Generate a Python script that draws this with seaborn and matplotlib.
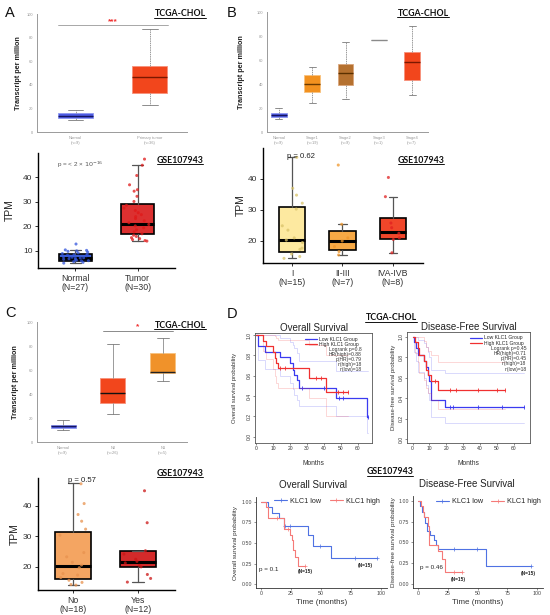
import numpy as np
import pandas as pd
import matplotlib
matplotlib.use("Agg")
import matplotlib.pyplot as plt
from matplotlib.lines import Line2D
import seaborn as sns

sns.set_theme(style="white")
plt.rcParams['font.family'] = ['Liberation Sans', 'DejaVu Sans']
plt.rcParams['mathtext.fontset'] = 'dejavusans'
np.random.seed(7)

# ================= DATA =================
# A top: TCGA-CHOL (GEPIA) box statistics, TPM
a1_labels = ["Normal\n(n=9)", "Primary tumor\n(n=36)"]
a1_lo = [10.0, 23.0]
a1_q1 = [12.0, 33.0]
a1_med = [13.5, 46.5]
a1_q3 = [16.0, 56.0]
a1_hi = [19.0, 87.0]

# B top: by stage
b1_labels = ["Normal\n(n=9)", "Stage1\n(n=19)", "Stage2\n(n=9)", "Stage3\n(n=1)", "Stage4\n(n=7)"]
b1_lo = [11.0, 24.0, 27.5, 77.0, 31.0]
b1_q1 = [12.5, 33.0, 39.0, 77.0, 43.0]
b1_med = [14.0, 40.0, 49.0, 77.0, 58.0]
b1_q3 = [16.0, 47.5, 57.0, 77.0, 66.5]
b1_hi = [20.0, 54.0, 75.0, 77.0, 88.0]

# C top: by nodal status
c1_labels = ["Normal\n(n=9)", "N0\n(n=26)", "N1\n(n=5)"]
c1_lo = [10.0, 23.0, 50.7]
c1_q1 = [12.0, 32.6, 57.5]
c1_med = [13.0, 41.0, 58.0]
c1_q3 = [14.0, 53.5, 74.0]
c1_hi = [18.5, 82.0, 87.0]

# A bottom: GSE107943 Normal vs Tumor
a2_groups = ["Normal\n(N=27)", "Tumor\n(N=30)"]
a2_lo = [5.0, 14.0]
a2_q1 = [5.9, 16.7]
a2_med = [7.2, 20.8]
a2_q3 = [8.6, 29.0]
a2_hi = [10.4, 45.0]
a2_normal_pts = [5.0, 5.3, 5.6, 5.9, 6.0, 6.2, 6.4, 6.6, 6.8, 7.0, 7.1, 7.2, 7.4, 7.6,
                 7.8, 8.0, 8.2, 8.4, 8.6, 8.9, 9.2, 9.5, 9.8, 10.0, 10.2, 10.4, 12.8]
a2_tumor_pts = [47.5, 45.0, 40.8, 37.0, 35.0, 34.4, 32.3, 30.2, 14.0, 14.2, 14.6, 15.0,
                15.4, 15.9, 16.4, 17.0, 17.8, 18.6, 19.4, 20.2, 20.8, 21.5, 22.3, 23.2,
                24.0, 24.8, 25.6, 26.5, 27.5, 28.6]

# B bottom: GSE107943 by stage
b2_groups = ["I\n(N=15)", "II-III\n(N=7)", "IVA-IVB\n(N=8)"]
b2_lo = [14.5, 15.5, 16.2]
b2_q1 = [16.4, 17.1, 20.5]
b2_med = [20.3, 20.0, 23.0]
b2_q3 = [31.0, 23.2, 27.5]
b2_hi = [47.0, 25.4, 34.3]
b2_I_pts = [47.0, 37.0, 34.8, 32.2, 30.3, 24.9, 23.5, 21.0, 20.3, 19.5, 17.7, 17.3, 15.8, 15.0, 14.4]
b2_II_pts = [44.5, 25.4, 21.0, 20.0, 18.2, 16.6, 15.5]
b2_IV_pts = [40.5, 34.3, 25.8, 24.3, 22.5, 21.0, 20.5, 16.2]

# C bottom: GSE107943 by lymph node metastasis
c2_groups = ["No\n(N=18)", "Yes\n(N=12)"]
c2_lo = [14.1, 15.0]
c2_q1 = [16.1, 19.8]
c2_med = [20.2, 21.7]
c2_q3 = [31.6, 25.1]
c2_hi = [47.4, 25.3]
c2_no_pts = [47.3, 40.8, 37.2, 35.0, 32.4, 30.4, 24.7, 23.3, 21.5, 20.6, 19.7, 17.8,
             17.3, 16.5, 15.6, 14.9, 14.2, 14.0]
c2_yes_pts = [45.0, 34.5, 25.3, 24.2, 22.5, 21.8, 21.3, 20.5, 20.0, 17.5, 16.2, 15.0]

# D top-left: TCGA overall survival
os_low_t = [0, 1, 5.5, 14, 20, 21.5, 22.5, 24, 25.5, 47, 65.5, 66]
os_low_s = [1.0, 0.89, 0.83, 0.78, 0.72, 0.66, 0.61, 0.555, 0.48, 0.385, 0.19, 0.19]
os_low_cens = [27, 40, 49, 51, 66]
os_low_ci_hi = [1.0, 1.0, 1.0, 0.97, 0.93, 0.9, 0.87, 0.82, 0.74, 0.65, 0.65, 0.65]
os_low_ci_lo = [1.0, 0.75, 0.67, 0.6, 0.53, 0.47, 0.41, 0.36, 0.3, 0.2, 0.04, 0.04]
os_high_t = [0, 4, 6, 10, 11, 12, 13, 31, 41, 54]
os_high_s = [1.0, 0.944, 0.889, 0.833, 0.778, 0.722, 0.675, 0.58, 0.435, 0.435]
os_high_cens = [14, 17, 35, 38, 48, 51, 54]
os_high_ci_hi = [1.0, 1.0, 1.0, 1.0, 0.99, 0.97, 0.95, 0.9, 0.8, 0.8]
os_high_ci_lo = [1.0, 0.84, 0.76, 0.67, 0.6, 0.53, 0.48, 0.38, 0.2, 0.2]

# D top-right: TCGA disease-free survival
dfs_low_t = [0, 1, 2, 3.5, 7, 8, 9, 10, 11, 19.5, 66]
dfs_low_s = [1.0, 0.944, 0.889, 0.822, 0.76, 0.70, 0.63, 0.57, 0.38, 0.316, 0.316]
dfs_low_cens = [22, 24, 39, 53, 66]
dfs_low_ci_hi = [1.0, 1.0, 1.0, 0.97, 0.94, 0.9, 0.85, 0.8, 0.68, 0.65, 0.65]
dfs_low_ci_lo = [1.0, 0.85, 0.76, 0.66, 0.6, 0.53, 0.45, 0.38, 0.22, 0.16, 0.16]
dfs_high_t = [0, 1.6, 3, 3.6, 7, 8, 9, 11, 15, 54.5]
dfs_high_s = [1.0, 0.944, 0.889, 0.822, 0.76, 0.68, 0.63, 0.565, 0.485, 0.485]
dfs_high_cens = [13, 22, 26, 39, 50, 54.5]
dfs_high_ci_hi = [1.0, 1.0, 1.0, 1.0, 0.96, 0.9, 0.86, 0.82, 0.75, 0.75]
dfs_high_ci_lo = [1.0, 0.84, 0.75, 0.65, 0.58, 0.5, 0.45, 0.38, 0.3, 0.3]

# D bottom-left: GSE107943 overall survival
g_os_low_t = [0, 5.6, 9, 14.5, 18.7, 39, 43, 58.6, 96.5]
g_os_low_s = [1.0, 0.933, 0.867, 0.80, 0.71, 0.597, 0.467, 0.315, 0.315]
g_os_low_cens = [20, 24, 49, 78.5, 96.5]
g_os_high_t = [0, 4, 6, 19, 24, 25.5, 26.5, 28.5, 30.5, 36.5]
g_os_high_s = [1.0, 0.933, 0.80, 0.667, 0.60, 0.533, 0.42, 0.33, 0.22, 0.22]
g_os_high_cens = [13, 22, 36.5]

# D bottom-right: GSE107943 disease-free survival
g_dfs_low_t = [0, 1.9, 3.3, 4.7, 6, 7.7, 10.4, 13.2, 15, 16.5, 57, 94.5]
g_dfs_low_s = [1.0, 0.933, 0.867, 0.80, 0.733, 0.64, 0.59, 0.533, 0.475, 0.425, 0.213, 0.213]
g_dfs_low_cens = [30, 49.5, 94.5]
g_dfs_high_t = [0, 2.4, 3.8, 4.6, 8, 9, 9.5, 16.5, 19.8, 22.6, 36.5]
g_dfs_high_s = [1.0, 0.933, 0.867, 0.80, 0.70, 0.60, 0.47, 0.40, 0.30, 0.15, 0.15]
g_dfs_high_cens = [30, 36.5]

# ================= FIGURE =================
W, H = 550, 615
fig = plt.figure(figsize=(5.5, 6.15), dpi=100)
fig.patch.set_facecolor('white')


def px_axes(x0, y0, x1, y1):
    return fig.add_axes([x0 / W, 1 - y1 / H, (x1 - x0) / W, (y1 - y0) / H])


def ftext(x, y, s, **kw):
    kw.setdefault('ha', 'center')
    kw.setdefault('va', 'center')
    return fig.text(x / W, 1 - y / H, s, **kw)


def stats_of(lo, q1, med, q3, hi):
    return [dict(whislo=a, q1=b, med=c, q3=d, whishi=e, fliers=[])
            for a, b, c, d, e in zip(lo, q1, med, q3, hi)]


def gepia(ax, labels, lo, q1, med, q3, hi, fills, edges, medcols, width, wls, xlim, ylabx):
    st = stats_of(lo, q1, med, q3, hi)
    pos = list(range(len(st)))
    r = ax.bxp(st, positions=pos, widths=width, patch_artist=True, showfliers=False,
               capwidths=[width * 0.45] * len(st),
               whiskerprops=dict(color='#9a9a9a', lw=0.7, ls=wls),
               capprops=dict(color='#7a7a7a', lw=0.6),
               medianprops=dict(lw=1.0))
    for b, f, e in zip(r['boxes'], fills, edges):
        b.set_facecolor(f)
        b.set_edgecolor(e)
        b.set_linewidth(0.6)
    for m, c in zip(r['medians'], medcols):
        m.set_color(c)
    ax.set_xlim(xlim)
    ax.set_ylim(0, 100)
    ax.set_xticks(pos)
    ax.set_xticklabels(labels, fontsize=2.9, color='#777', linespacing=1.3)
    ax.set_yticks([0, 20, 40, 60, 80, 100])
    ax.set_yticklabels(['0', '20', '40', '60', '80', '100'], fontsize=2.9, color='#777')
    for s in ['top', 'right']:
        ax.spines[s].set_visible(False)
    for s in ['left', 'bottom']:
        ax.spines[s].set_color('#9a9a9a')
        ax.spines[s].set_linewidth(0.7)
    ax.tick_params(length=1.5, width=0.4, colors='#999', pad=1.5)
    ax.set_ylabel('Transcript per million', fontsize=5.2, fontweight='bold', color='#222')
    ax.yaxis.set_label_coords(ylabx, 0.5)


def gse(ax, groups, lo, q1, med, q3, hi, fills, pts, ptcols, width, xlim, ylim, yticks, ylabx):
    st = stats_of(lo, q1, med, q3, hi)
    pos = list(range(len(st)))
    r = ax.bxp(st, positions=pos, widths=width, patch_artist=True, showfliers=False,
               capwidths=[0.17] * len(st),
               boxprops=dict(edgecolor='black', lw=1.2),
               whiskerprops=dict(color='#555', lw=0.9),
               capprops=dict(color='#555', lw=0.9),
               medianprops=dict(color='black', lw=2.2))
    for b, f in zip(r['boxes'], fills):
        b.set_facecolor(f)
        b.set_zorder(1)
    vals, grp = [], []
    for g, p in zip(groups, pts):
        vals += list(p)
        grp += [g] * len(p)
    df = pd.DataFrame({'group': grp, 'val': vals})
    sns.stripplot(data=df, x='group', y='val', order=groups, hue='group', hue_order=groups,
                  palette=dict(zip(groups, ptcols)), jitter=0.22, size=2.2, alpha=0.75,
                  linewidth=0, ax=ax, legend=False, zorder=4)
    ax.set_xlim(xlim)
    ax.set_ylim(ylim)
    ax.set_xticks(pos)
    ax.set_xticklabels(groups, fontsize=6.3, color='#222', linespacing=1.05)
    ax.set_yticks(yticks)
    ax.set_yticklabels([str(v) for v in yticks], fontsize=6.0, color='#333')
    ax.set_xlabel('')
    for s in ['top', 'right']:
        ax.spines[s].set_visible(False)
    for s in ['left', 'bottom']:
        ax.spines[s].set_color('black')
        ax.spines[s].set_linewidth(1.0)
    ax.tick_params(length=2.5, width=0.7, colors='#333', pad=1.5, left=True, bottom=True)
    ax.set_ylabel('TPM', fontsize=7.5, color='#222')
    ax.yaxis.set_label_coords(ylabx, 0.5)


def step_line(ax, t, s, color, lw, alpha=1.0):
    sns.lineplot(x=t, y=s, drawstyle='steps-post', estimator=None, sort=False,
                 color=color, lw=lw, alpha=alpha, ax=ax)


def cens(ax, t, s, c, color, marker, ms, mew):
    t = np.asarray(t)
    idx = np.searchsorted(t, c, side='right') - 1
    ax.plot(c, np.asarray(s)[idx], ls='none', marker=marker, ms=ms, mew=mew, color=color)


BLUE_T, RED_T = '#3b3bf0', '#f03030'


def km_tcga(ax, curves, title, ylab, legx, stats_lines, xlim, ylim, ylabx):
    for t, s, c, ci_hi, ci_lo, col in curves:
        step_line(ax, t, ci_hi, col, 0.6, 0.22)
        step_line(ax, t, ci_lo, col, 0.6, 0.22)
        step_line(ax, t, s, col, 0.9)
        cens(ax, t, s, c, col, '|', 2.6, 0.6)
    ax.set_xlim(xlim)
    ax.set_ylim(ylim)
    ax.set_xticks([0, 10, 20, 30, 40, 50, 60])
    ax.set_xticklabels(['0', '10', '20', '30', '40', '50', '60'], fontsize=3.6, color='#333')
    ax.set_yticks([0, 0.2, 0.4, 0.6, 0.8, 1.0])
    ax.set_yticklabels(['0.0', '0.2', '0.4', '0.6', '0.8', '1.0'], fontsize=3.6,
                       color='#333', rotation=90, va='center')
    for s in ax.spines.values():
        s.set_visible(True)
        s.set_color('#555')
        s.set_linewidth(0.6)
    ax.tick_params(length=1.5, width=0.4, colors='#333', pad=1, left=True, bottom=True)
    ax.set_title(title, fontsize=7, pad=1.5, color='#222')
    ax.set_ylabel(ylab, fontsize=4.3, color='#333')
    ax.yaxis.set_label_coords(ylabx, 0.5)
    ax.set_xlabel('Months', fontsize=4.8, color='#333')
    ax.xaxis.set_label_coords(0.5, -0.155)
    hs = [Line2D([], [], color=BLUE_T, lw=0.9), Line2D([], [], color=RED_T, lw=0.9)]
    ax.legend(hs, ['Low KLC1 Group', 'High KLC1 Group'], loc='upper right',
              bbox_to_anchor=(legx + 0.01, 1.0), fontsize=3.6, frameon=False,
              handlelength=2.4, handletextpad=0.4, labelspacing=0.12, borderpad=0.2)
    for i, line in enumerate(stats_lines):
        ax.text(legx, 0.85 - i * 0.046, line, transform=ax.transAxes, ha='right',
                va='center', fontsize=3.6, color='#333')


BLUE_G, RED_G = '#4f72e3', '#f57a78'


def km_gse(ax, curves, ylab, legx, legy, ylabx):
    for t, s, c, col in curves:
        step_line(ax, t, s, col, 0.8)
        cens(ax, t, s, c, col, '+', 2.4, 0.5)
    ax.set_xlim(-4.3, 105)
    ax.set_ylim(-0.047, 1.058)
    ax.set_xticks([0, 25, 50, 75, 100])
    ax.set_xticklabels(['0', '25', '50', '75', '100'], fontsize=3.8, color='#444')
    ax.set_yticks([0, 0.25, 0.5, 0.75, 1.0])
    ax.set_yticklabels(['0.00', '0.25', '0.50', '0.75', '1.00'], fontsize=3.8, color='#444')
    for s in ['top', 'right']:
        ax.spines[s].set_visible(False)
    for s in ['left', 'bottom']:
        ax.spines[s].set_color('#333')
        ax.spines[s].set_linewidth(0.6)
    ax.tick_params(length=1.5, width=0.4, colors='#444', pad=1, left=True, bottom=True)
    ax.set_ylabel(ylab, fontsize=4.6, color='#333')
    ax.yaxis.set_label_coords(ylabx, 0.5)
    ax.set_xlabel('Time (months)', fontsize=5.8, color='#333')
    ax.xaxis.set_label_coords(0.5, -0.125)
    hs = [Line2D([], [], color=BLUE_G, lw=0.8, marker='+', ms=3, mew=0.5),
          Line2D([], [], color=RED_G, lw=0.8, marker='+', ms=3, mew=0.5)]
    ax.legend(hs, ['KLC1 low', 'KLC1 high'], loc='center', bbox_to_anchor=(legx, legy),
              ncol=2, fontsize=5.2, frameon=False, handlelength=1.8, handletextpad=0.4,
              columnspacing=1.2, borderpad=0)


# ---- A top ----
axA1 = px_axes(37, 14, 187, 132)
gepia(axA1, a1_labels, a1_lo, a1_q1, a1_med, a1_q3, a1_hi,
      ['#4d5be3', '#f2461c'], ['#8f98f0', '#f7917a'], ['#151560', '#7a1800'],
      0.47, (0, (1.5, 0.8)), (-0.52, 1.5), -0.1)
axA1.plot([-0.24, 1.25], [90.7, 90.7], color='#999', lw=0.6)
axA1.text(0.5, 93.2, '***', color='#f03030', ha='center', va='center', fontsize=6, fontweight='bold')

# ---- B top ----
axB1 = px_axes(267, 12, 428, 132)
gepia(axB1, b1_labels, b1_lo, b1_q1, b1_med, b1_q3, b1_hi,
      ['#4d5be3', '#f2911f', '#b5712f', '#8a8a8a', '#f2461c'],
      ['#8f98f0', '#f8c27e', '#d9a67c', '#8a8a8a', '#f7917a'],
      ['#151560', '#6b3a00', '#5a3000', '#8a8a8a', '#7a1800'],
      0.47, (0, (1.5, 0.8)), (-0.36, 4.48), -0.137)

# ---- A bottom ----
axA2 = px_axes(38, 153, 175, 268)
gse(axA2, a2_groups, a2_lo, a2_q1, a2_med, a2_q3, a2_hi, ['#3d5fd1', '#dc3030'],
    [a2_normal_pts, a2_tumor_pts], ['#3355dd', '#e01818'], 0.52,
    (-0.6, 1.6), (3, 50), [10, 20, 30, 40], -0.168)
ftext(57, 165, r'p = < 2 × $10^{-16}$', ha='left', fontsize=4.6, color='#555')

# ---- B bottom ----
axB2 = px_axes(263, 148, 423, 263)
gse(axB2, b2_groups, b2_lo, b2_q1, b2_med, b2_q3, b2_hi, ['#fde9a0', '#f7a945', '#f0462a'],
    [b2_I_pts, b2_II_pts, b2_IV_pts], ['#d9c36a', '#f0962a', '#e02020'], 0.52,
    (-0.58, 2.6), (12.9, 50), [20, 30, 40], -0.11)
ftext(287, 156, 'p = 0.62', ha='left', fontsize=5.6, color='#222')

# ---- C top ----
axC1 = px_axes(37, 322, 187, 442)
gepia(axC1, c1_labels, c1_lo, c1_q1, c1_med, c1_q3, c1_hi,
      ['#4d5be3', '#f2461c', '#f0922a'], ['#8f98f0', '#f7917a', '#f8c27e'],
      ['#151560', '#111111', '#222222'],
      0.5, '-', (-0.52, 2.48), -0.118)
axC1.plot([0.8, 2.2], [92.5, 92.5], color='#777', lw=0.6)
axC1.text(1.5, 96.2, '*', color='#f03030', ha='center', va='center', fontsize=6, fontweight='bold')

# ---- C bottom ----
axC2 = px_axes(38, 478, 175, 590)
gse(axC2, c2_groups, c2_lo, c2_q1, c2_med, c2_q3, c2_hi, ['#f4a562', '#d42a2a'],
    [c2_no_pts, c2_yes_pts], ['#e8924e', '#cc1515'], 0.56,
    (-0.54, 1.57), (12.4, 49.2), [20, 30, 40], -0.13)
ftext(68, 481, 'p = 0.57', ha='left', fontsize=5.6, color='#222')

# ---- D top ----
axD1 = px_axes(255, 333, 372, 443)
km_tcga(axD1, [(os_low_t, os_low_s, os_low_cens, os_low_ci_hi, os_low_ci_lo, BLUE_T),
               (os_high_t, os_high_s, os_high_cens, os_high_ci_hi, os_high_ci_lo, RED_T)],
        'Overall Survival', 'Overall survival probability', 0.91,
        ['Logrank p=0.8', 'HR(high)=0.88', 'p(HR)=0.79', 'n(high)=18', 'n(low)=18'],
        (-0.6, 68.2), (-0.062, 1.02), -0.15)
axD2 = px_axes(407, 332, 530, 443)
km_tcga(axD2, [(dfs_low_t, dfs_low_s, dfs_low_cens, dfs_low_ci_hi, dfs_low_ci_lo, BLUE_T),
               (dfs_high_t, dfs_high_s, dfs_high_cens, dfs_high_ci_hi, dfs_high_ci_lo, RED_T)],
        'Disease-Free Survival', 'Disease-free survival probability', 0.97,
        ['Logrank p=0.45', 'HR(high)=0.71', 'p(HR)=0.45', 'n(high)=18', 'n(low)=18'],
        (-3.3, 69.6), (-0.036, 1.046), -0.09)

# ---- D bottom ----
axD3 = px_axes(256, 497, 387, 588)
km_gse(axD3, [(g_os_low_t, g_os_low_s, g_os_low_cens, BLUE_G),
              (g_os_high_t, g_os_high_s, g_os_high_cens, RED_G)],
       'Overall survival probability', 0.54, 0.953, -0.135)
axD4 = px_axes(413, 496, 543, 588)
km_gse(axD4, [(g_dfs_low_t, g_dfs_low_s, g_dfs_low_cens, BLUE_G),
              (g_dfs_high_t, g_dfs_high_s, g_dfs_high_cens, RED_G)],
       'Disease-free survival probability', 0.58, 0.94, -0.133)

ftext(313, 485, 'Overall Survival', fontsize=7, color='#222')
ftext(467, 484, 'Disease-Free Survival', fontsize=7, color='#222')
ftext(269, 569, 'p = 0.1', fontsize=4.5, color='#222')
ftext(431, 568, 'p = 0.46', fontsize=4.5, color='#222')
ftext(305.5, 572, '(N=15)', fontsize=3.4, fontweight='bold', color='#222')
ftext(365, 566, '(N=15)', fontsize=3.4, fontweight='bold', color='#222')
ftext(458.5, 579, '(N=15)', fontsize=3.4, fontweight='bold', color='#222')
ftext(528, 574, '(N=15)', fontsize=3.4, fontweight='bold', color='#222')

# ---- panel letters ----
for L, x, y in [('A', 10, 13), ('B', 232, 13), ('C', 10, 313), ('D', 232, 314)]:
    ftext(x, y, L, fontsize=10.5, color='#111')

# ---- dataset headings (underlined) ----
heads = []
for s, x, y in [('TCGA-CHOL', 180, 14), ('TCGA-CHOL', 423, 13), ('GSE107943', 180, 160),
                ('GSE107943', 421, 160), ('TCGA-CHOL', 180, 325), ('TCGA-CHOL', 391, 318),
                ('GSE107943', 180, 473), ('GSE107943', 390, 472)]:
    heads.append(ftext(x, y, s, fontsize=6.3, fontweight='bold', color='#111',
                       family=['Lato', 'DejaVu Sans']))

fig.canvas.draw()
rend = fig.canvas.get_renderer()
inv = fig.transFigure.inverted()
for t in heads:
    bb = t.get_window_extent(rend)
    (x0, y0), (x1, y1) = inv.transform([[bb.x0, bb.y0], [bb.x1, bb.y1]])
    fig.add_artist(Line2D([x0, x1], [y0 + 0.0005, y0 + 0.0005], transform=fig.transFigure,
                          color='#111', lw=0.7))

fig.savefig('out.png', dpi=100, facecolor='white')
